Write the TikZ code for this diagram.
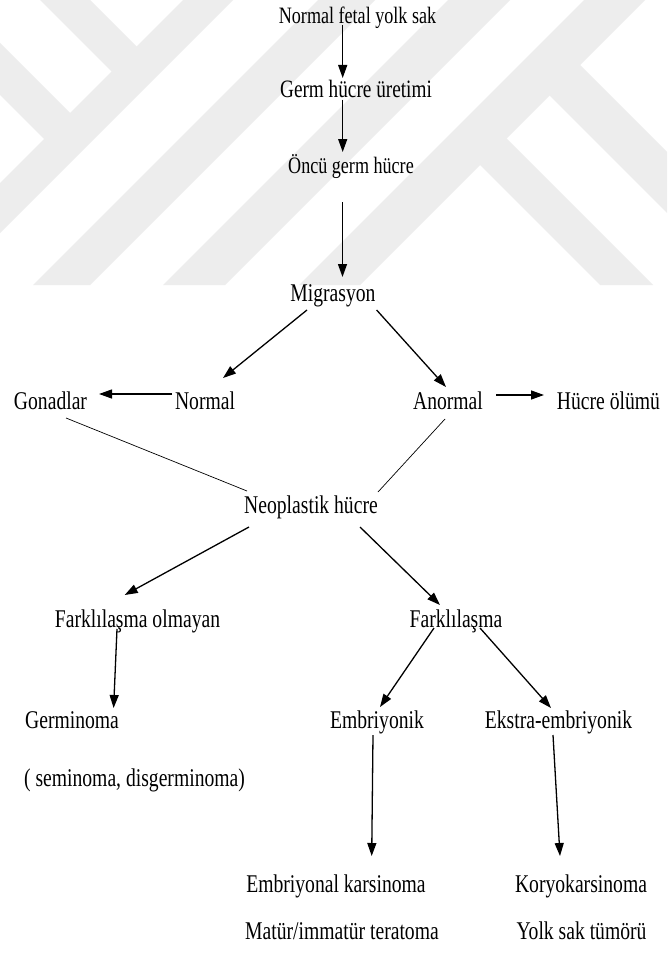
\documentclass[tikz,border=0pt]{standalone}
\usepackage{fontspec}
\setmainfont{Liberation Serif}[FakeStretch=0.77]
\usetikzlibrary{arrows.meta}
\definecolor{wm}{RGB}{237,237,237}
\begin{document}
\begin{tikzpicture}[x=1pt,y=-1pt,
  lbl/.style={anchor=base,inner sep=0pt,font=\fontsize{25.5}{30}\selectfont},
  lblsm/.style={lbl,font=\fontsize{23.5}{28}\selectfont},
  arr/.style={line width=1.3pt,-{Triangle[length=13pt,width=9pt]}},
  thinline/.style={line width=0.7pt}]
\useasboundingbox[fill=white] (0,0) rectangle (667,955);
% watermark
\begin{scope}
\clip (0,0) rectangle (667,285);
\fill[wm] (183,0) -- (233,0) -- (0,233) -- (0,183) -- cycle;
\fill[wm] (40,0) -- (90,0) -- (145,55) -- (120,80) -- cycle;
\fill[wm] (0,43) -- (0,95) -- (52.5,147.5) -- (78.5,121.5) -- cycle;
\fill[wm] (318,0) -- (375,0) -- (90,285) -- (33,285) -- cycle;
\fill[wm] (448,0) -- (510,0) -- (225,285) -- (163,285) -- cycle;
\fill[wm] (584,0) -- (645,0) -- (360,285) -- (299,285) -- cycle;
\fill[wm] (572.5,57.5) -- (667,152) -- (667,213) -- (542,88) -- cycle;
\fill[wm] (499,131) -- (653,285) -- (600,285) -- (472.5,157.5) -- cycle;
\end{scope}
% nodes
\node[lblsm] (n1) at (357.5,24) {Normal fetal yolk sak};
\node[lbl,font=\fontsize{25}{30}\selectfont] (n2) at (356,98) {Germ hücre üretimi};
\node[lblsm] (n3) at (351,173) {Öncü germ hücre};
\node[lbl] (n4) at (333,301) {Migrasyon};
\node[lbl] (n5) at (50.5,409) {Gonadlar};
\node[lbl] (n6) at (205,409) {Normal};
\node[lbl] (n7) at (448,409) {Anormal};
\node[lbl] (n8) at (608.5,409) {Hücre ölümü};
\node[lbl] (n9) at (311,513) {Neoplastik hücre};
\node[lbl] (n10) at (137.5,627) {Farklılaşma olmayan};
\node[lbl] (n11) at (456,627) {Farklılaşma};
\node[lbl] (n12) at (72,728) {Germinoma};
\node[lbl] (n13) at (377,728) {Embriyonik};
\node[lbl] (n14) at (558.5,728) {Ekstra-embriyonik};
\node[lbl] (n15) at (134.5,786) {( seminoma, disgerminoma)};
\node[lbl] (n16) at (336,892) {Embriyonal karsinoma};
\node[lbl] (n17) at (581,892) {Koryokarsinoma};
\node[lbl] (n18) at (342,939) {Matür/immatür teratoma};
\node[lbl] (n19) at (581.5,939) {Yolk sak tümörü};
% connector end points
\coordinate (c1a) at (342.7,25);  \coordinate (c1b) at (342.7,78);
\coordinate (c2a) at (342.7,100); \coordinate (c2b) at (342.7,152);
\coordinate (c3a) at (342.5,202); \coordinate (c3b) at (342.5,277);
\coordinate (c4a) at (307,310);   \coordinate (c4b) at (223,378);
\coordinate (c5a) at (376.6,310); \coordinate (c5b) at (446,387);
\coordinate (c6a) at (172,394);   \coordinate (c6b) at (99,394);
\coordinate (c7a) at (496,395);   \coordinate (c7b) at (544,395);
\coordinate (c8a) at (66,418);    \coordinate (c8b) at (247,491);
\coordinate (c9a) at (445,419);   \coordinate (c9b) at (378,492);
\coordinate (c10a) at (249,527);  \coordinate (c10b) at (124.7,595);
\coordinate (c11a) at (360,527);  \coordinate (c11b) at (440,605);
\coordinate (c12a) at (117,629);  \coordinate (c12b) at (113.6,708);
\coordinate (c13a) at (434,628);  \coordinate (c13b) at (380,707);
\coordinate (c14a) at (480,628);  \coordinate (c14b) at (551,708);
\coordinate (c15a) at (373,735);  \coordinate (c15b) at (371.7,856);
\coordinate (c16a) at (553,735);  \coordinate (c16b) at (560,856);
% connectors
\draw[arr] (c1a) -- (c1b);
\draw[arr] (c2a) -- (c2b);
\draw[arr] (c3a) -- (c3b);
\draw[arr] (c4a) -- (c4b);
\draw[arr] (c5a) -- (c5b);
\draw[arr] (c6a) -- (c6b);
\draw[arr] (c7a) -- (c7b);
\draw[thinline] (c8a) -- (c8b);
\draw[thinline] (c9a) -- (c9b);
\draw[arr] (c10a) -- (c10b);
\draw[arr] (c11a) -- (c11b);
\draw[arr] (c12a) -- (c12b);
\draw[arr] (c13a) -- (c13b);
\draw[arr] (c14a) -- (c14b);
\draw[arr] (c15a) -- (c15b);
\draw[arr] (c16a) -- (c16b);
\end{tikzpicture}
\end{document}
